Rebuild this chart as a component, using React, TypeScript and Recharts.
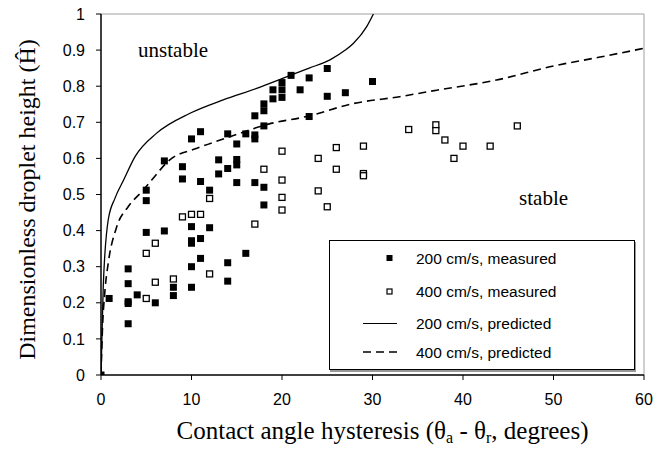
import React from 'react';
import { ComposedChart, Line, Scatter, XAxis, YAxis, ReferenceLine, ReferenceDot, Legend } from 'recharts';

const xTicks = [0, 10, 20, 30, 40, 50, 60];
const yTicks = [0, 0.1, 0.2, 0.3, 0.4, 0.5, 0.6, 0.7, 0.8, 0.9, 1];

const measured200 = [
  { x: 0, y: 0 }, { x: 0.9, y: 0.212 },
  { x: 3, y: 0.294 }, { x: 3, y: 0.253 }, { x: 3, y: 0.203 }, { x: 3, y: 0.198 }, { x: 3, y: 0.142 },
  { x: 4, y: 0.222 },
  { x: 5, y: 0.512 }, { x: 5, y: 0.483 }, { x: 5, y: 0.395 },
  { x: 6, y: 0.2 },
  { x: 7, y: 0.593 }, { x: 7, y: 0.399 },
  { x: 8, y: 0.243 }, { x: 8, y: 0.22 },
  { x: 9, y: 0.577 }, { x: 9, y: 0.543 },
  { x: 10, y: 0.654 }, { x: 10, y: 0.411 }, { x: 10, y: 0.372 }, { x: 10, y: 0.365 }, { x: 10, y: 0.3 }, { x: 10, y: 0.243 },
  { x: 11, y: 0.674 }, { x: 11, y: 0.536 }, { x: 11, y: 0.378 }, { x: 11, y: 0.323 },
  { x: 12, y: 0.512 }, { x: 12, y: 0.408 },
  { x: 13, y: 0.596 }, { x: 13, y: 0.557 },
  { x: 14, y: 0.668 }, { x: 14, y: 0.572 }, { x: 14, y: 0.311 }, { x: 14, y: 0.26 },
  { x: 15, y: 0.64 }, { x: 15, y: 0.597 }, { x: 15, y: 0.582 }, { x: 15, y: 0.533 },
  { x: 16, y: 0.668 }, { x: 16, y: 0.337 },
  { x: 17, y: 0.718 }, { x: 17, y: 0.665 }, { x: 17, y: 0.654 }, { x: 17, y: 0.533 },
  { x: 18, y: 0.751 }, { x: 18, y: 0.732 }, { x: 18, y: 0.69 }, { x: 18, y: 0.52 }, { x: 18, y: 0.471 },
  { x: 19, y: 0.79 }, { x: 19, y: 0.765 },
  { x: 20, y: 0.81 }, { x: 20, y: 0.79 }, { x: 20, y: 0.769 },
  { x: 21, y: 0.83 }, { x: 22, y: 0.79 },
  { x: 23, y: 0.823 }, { x: 23, y: 0.716 },
  { x: 25, y: 0.849 }, { x: 25, y: 0.772 },
  { x: 27, y: 0.782 }, { x: 30, y: 0.813 },
];

const measured400 = [
  { x: 5, y: 0.337 }, { x: 5, y: 0.212 },
  { x: 6, y: 0.365 }, { x: 6, y: 0.257 },
  { x: 8, y: 0.266 }, { x: 9, y: 0.438 }, { x: 10, y: 0.445 }, { x: 11, y: 0.445 },
  { x: 12, y: 0.489 }, { x: 12, y: 0.28 },
  { x: 17, y: 0.418 }, { x: 18, y: 0.57 },
  { x: 20, y: 0.62 }, { x: 20, y: 0.54 }, { x: 20, y: 0.492 }, { x: 20, y: 0.457 },
  { x: 24, y: 0.6 }, { x: 24, y: 0.51 }, { x: 25, y: 0.466 },
  { x: 26, y: 0.63 }, { x: 26, y: 0.57 },
  { x: 29, y: 0.634 }, { x: 29, y: 0.558 }, { x: 29, y: 0.552 },
  { x: 34, y: 0.68 }, { x: 37, y: 0.693 }, { x: 37, y: 0.677 },
  { x: 38, y: 0.651 }, { x: 39, y: 0.6 }, { x: 40, y: 0.634 }, { x: 43, y: 0.634 }, { x: 46, y: 0.69 },
];

const predicted200 = [
  { x: 0, y: 0 }, { x: 0.08, y: 0.08 }, { x: 0.25, y: 0.245 }, { x: 0.8, y: 0.43 }, { x: 1.55, y: 0.49 },
  { x: 2.5, y: 0.54 }, { x: 3.76, y: 0.605 }, { x: 6.15, y: 0.67 }, { x: 9.83, y: 0.725 },
  { x: 13.5, y: 0.762 }, { x: 17.2, y: 0.794 }, { x: 20.5, y: 0.826 }, { x: 23, y: 0.85 },
  { x: 25.3, y: 0.873 }, { x: 27, y: 0.9 }, { x: 27.9, y: 0.919 }, { x: 29.36, y: 0.965 }, { x: 30.1, y: 1 },
];

const predicted400 = [
  { x: 0, y: 0 }, { x: 0.15, y: 0.12 }, { x: 0.44, y: 0.235 }, { x: 0.8, y: 0.31 }, { x: 1.73, y: 0.41 },
  { x: 3, y: 0.466 }, { x: 4.67, y: 0.512 }, { x: 5.6, y: 0.54 }, { x: 7.6, y: 0.596 },
  { x: 10.6, y: 0.628 }, { x: 14.25, y: 0.66 }, { x: 18.5, y: 0.695 }, { x: 22.7, y: 0.716 },
  { x: 27.9, y: 0.752 }, { x: 33, y: 0.771 }, { x: 37.1, y: 0.789 }, { x: 43.7, y: 0.817 },
  { x: 50, y: 0.856 }, { x: 55, y: 0.88 }, { x: 60, y: 0.905 },
];

const legendLabels = ['200 cm/s, measured', '400 cm/s, measured', '200 cm/s, predicted', '400 cm/s, predicted'];

const SANS = '"Liberation Sans", Arial, sans-serif';
const SERIF = '"Liberation Serif", "Times New Roman", serif';

const FilledSquare = (props: any) => {
  const { cx, cy } = props;
  return <rect x={cx - 3.5} y={cy - 3.5} width={7} height={7} fill="#000" />;
};
const OpenSquare = (props: any) => {
  const { cx, cy } = props;
  return <rect x={cx - 3} y={cy - 3} width={6} height={6} fill="#fff" stroke="#000" strokeWidth={1.3} />;
};

const LegendBox = () => {
  const rows = [17, 50.5, 82.5, 111];
  return (
    <div style={{ width: 306, height: 130, border: '1px solid #000', boxSizing: 'border-box', background: '#fff', boxShadow: '1px 2px 0 #999', position: 'relative' }}>
      <svg width={304} height={128} style={{ position: 'absolute', left: 0, top: 0 }}>
        <rect x={56.5} y={rows[0] - 3} width={6} height={6} fill="#000" />
        <rect x={57} y={rows[1] - 2.5} width={5} height={5} fill="#fff" stroke="#000" strokeWidth={1.2} />
        <line x1={33} x2={67} y1={rows[2]} y2={rows[2]} stroke="#000" strokeWidth={1.2} />
        <line x1={33} x2={67} y1={rows[3]} y2={rows[3]} stroke="#000" strokeWidth={1.6} strokeDasharray="8 5" />
        {legendLabels.map((t, i) => (
          <text key={t} x={86} y={rows[i]} dominantBaseline="central" fontFamily={SANS} fontSize={15.5} fill="#000">{t}</text>
        ))}
      </svg>
    </div>
  );
};

const YLabel = (props: any) => {
  const vb = props.viewBox || { x: 0, y: 14, width: 101, height: 361 };
  const cx = 27;
  const cy = vb.y + vb.height / 2 + 5;
  return (
    <text x={cx} y={cy} transform={`rotate(-90 ${cx} ${cy})`} textAnchor="middle" dominantBaseline="central" fontFamily={SERIF} fontSize={24} fill="#000">
      Dimensionless droplet height (Ĥ)
    </text>
  );
};

const XLabel = (props: any) => {
  const vb = props.viewBox || { x: 101, y: 375, width: 543, height: 77 };
  const cx = vb.x + vb.width / 2 + 10;
  const y = vb.y + 64;
  return (
    <text x={cx} y={y} textAnchor="middle" fontFamily={SERIF} fontSize={25} fill="#000">
      <tspan>Contact angle hysteresis (θ</tspan>
      <tspan fontSize={16} dy={4}>a</tspan>
      <tspan dy={-4}> - θ</tspan>
      <tspan fontSize={16} dy={4}>r</tspan>
      <tspan dy={-4}>, degrees)</tspan>
    </text>
  );
};

const Note = (text: string) => (props: any) => (
  <text x={props.cx} y={props.cy} fontFamily={SERIF} fontSize={21} fill="#000">{text}</text>
);

export default function App() {
  return (
    <div style={{ position: 'absolute', left: 0, top: 0, width: 656, height: 452, background: '#fff' }}>
      <ComposedChart width={656} height={452} margin={{ top: 14, right: 12, left: 0, bottom: 0 }}>
        <XAxis
          type="number" dataKey="x" domain={[0, 60]} ticks={xTicks} allowDataOverflow
          height={77} tickSize={5} tickMargin={14}
          tick={{ fill: '#000', fontFamily: SANS, fontSize: 16 }}
          axisLine={{ stroke: '#000', strokeWidth: 1.5 }} tickLine={{ stroke: '#000' }}
          label={{ content: XLabel }}
        />
        <YAxis
          type="number" dataKey="y" domain={[0, 1]} ticks={yTicks} allowDataOverflow
          width={101} tickSize={5} tickMargin={11}
          tick={{ fill: '#000', fontFamily: SANS, fontSize: 16 }}
          tickFormatter={(v: number) => String(v)}
          axisLine={{ stroke: '#000', strokeWidth: 1.5 }} tickLine={{ stroke: '#000' }}
          label={{ content: YLabel }}
        />
        <ReferenceLine y={1} stroke="#a0a0a0" strokeWidth={1} />
        <ReferenceLine x={60} stroke="#a0a0a0" strokeWidth={1} />
        <Line data={predicted200} dataKey="y" type="monotone" stroke="#000" strokeWidth={1.3} dot={false} isAnimationActive={false} name="200 cm/s, predicted" />
        <Line data={predicted400} dataKey="y" type="monotone" stroke="#000" strokeWidth={1.6} strokeDasharray="8 5" dot={false} isAnimationActive={false} name="400 cm/s, predicted" />
        <Scatter data={measured400} dataKey="y" shape={OpenSquare} isAnimationActive={false} name="400 cm/s, measured" />
        <Scatter data={measured200} dataKey="y" shape={FilledSquare} isAnimationActive={false} name="200 cm/s, measured" />
        <ReferenceDot x={4.1} y={0.881} r={0} shape={Note('unstable')} />
        <ReferenceDot x={46.2} y={0.471} r={0} shape={Note('stable')} />
        <Legend layout="horizontal" verticalAlign="middle" align="center" content={LegendBox}
          wrapperStyle={{ left: 329, top: 240, width: 306, height: 130 }} />
      </ComposedChart>
    </div>
  );
}
